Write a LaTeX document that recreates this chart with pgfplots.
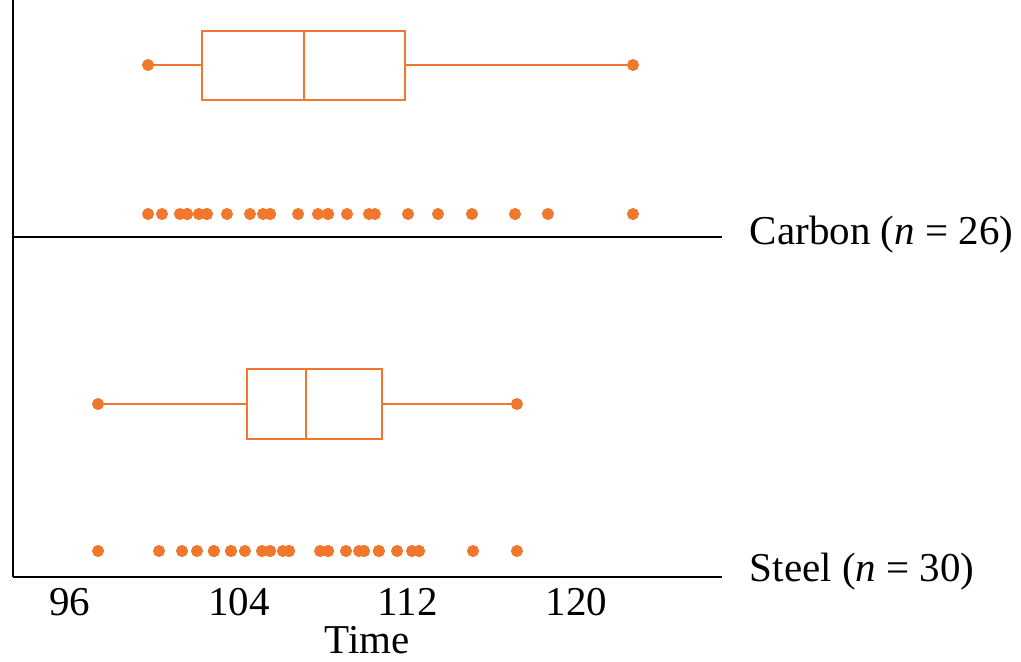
\documentclass[border=0pt]{standalone}
\usepackage{fontspec}
\setmainfont{Liberation Serif}
\usepackage{pgfplots}
\pgfplotsset{compat=1.18}
\usepgfplotslibrary{statistics}
\definecolor{dotorange}{RGB}{241,119,44}
\begin{document}
\begin{tikzpicture}
\path[use as bounding box] (-6.5pt,-42pt) rectangle (504pt,288.5pt);
\begin{axis}[
  at={(0,0)}, anchor=south west,
  scale only axis, width=354.5pt, height=288.5pt,
  xmin=93.3, xmax=126.9, ymin=0, ymax=577,
  axis x line=bottom, axis y line=left,
  axis line style={line width=0.8pt,-},
  xtick={96,104,112,120}, ytick=\empty,
  major tick length=0pt,
  /pgf/number format/assume math mode=true,
  tick label style={font=\fontsize{20.5}{22}\selectfont},
  xticklabel style={yshift=-2pt},
  xlabel={Time},
  xlabel style={font=\fontsize{20.5}{22}\selectfont, yshift=1.5pt},
  clip=false,
]
% separator line
\addplot[black, line width=0.8pt] coordinates {(93.3,340) (126.9,340)};
% box plots
\addplot[dotorange, line width=1pt, boxplot/draw direction=x,
  boxplot/whisker extend=0, boxplot/box extend=69, boxplot/draw position=512,
  boxplot prepared={lower whisker=99.70, lower quartile=102.26, median=107.1,
    upper quartile=111.9, upper whisker=122.68}] coordinates {};
\addplot[dotorange, line width=1pt, boxplot/draw direction=x,
  boxplot/whisker extend=0, boxplot/box extend=70, boxplot/draw position=173,
  boxplot prepared={lower whisker=97.33, lower quartile=104.4, median=107.2,
    upper quartile=110.8, upper whisker=117.18}] coordinates {};
% whisker end points
\addplot[only marks, mark=*, mark size=2.8pt, dotorange] coordinates {
  (99.70,512) (122.68,512) (97.33,173) (117.18,173)};
% Carbon dot plot (n = 26)
\addplot[only marks, mark=*, mark size=2.8pt, dotorange] coordinates {
  (99.70,363) (100.36,363) (101.21,363) (101.55,363) (101.55,363)
  (102.11,363) (102.49,363) (102.49,363) (103.44,363) (104.53,363)
  (105.15,363) (105.48,363) (106.81,363) (107.75,363) (108.23,363)
  (108.23,363) (109.13,363) (110.17,363) (110.45,363) (112.02,363)
  (113.44,363) (115.05,363) (117.09,363) (118.65,363) (122.68,363)
  (105.48,363)};
% Steel dot plot (n = 30)
\addplot[only marks, mark=*, mark size=2.8pt, dotorange] coordinates {
  (97.33,26) (100.22,26) (101.31,26) (102.02,26) (102.82,26)
  (103.63,26) (104.29,26) (105.10,26) (105.48,26) (105.48,26)
  (106.09,26) (106.38,26) (106.38,26) (107.85,26) (108.23,26)
  (108.23,26) (109.08,26) (109.70,26) (109.93,26) (109.93,26)
  (110.64,26) (111.50,26) (112.21,26) (112.54,26) (112.54,26)
  (115.10,26) (117.18,26) (103.63,26) (110.64,26) (102.82,26)};
\node[anchor=west, font=\fontsize{20.5}{22}\selectfont, inner sep=0pt]
  at (axis cs:128.2,342) {Carbon (\textit{n} = 26)};
\node[anchor=west, font=\fontsize{20.5}{22}\selectfont, inner sep=0pt]
  at (axis cs:128.2,5) {Steel (\textit{n} = 30)};
\end{axis}
\end{tikzpicture}
\end{document}
